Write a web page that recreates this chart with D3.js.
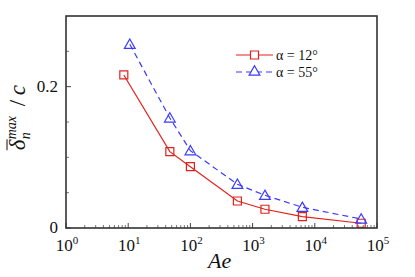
<!DOCTYPE html>
<html>
<head>
<meta charset="utf-8">
<script src="https://cdn.jsdelivr.net/npm/d3@7"></script>
<style>
  body { margin: 0; background: #fff; }
</style>
</head>
<body>
<div id="chart"></div>
<script>
// data
var ae_12 = [8.5, 46.7, 100, 570, 1580, 6310, 55700];
var delta_12 = [0.2166, 0.108, 0.0868, 0.0382, 0.0265, 0.016, 0.0067];
var ae_55 = [10.6, 46.7, 100, 570, 1580, 6310, 55700];
var delta_55 = [0.260, 0.1557, 0.1094, 0.0619, 0.0463, 0.0293, 0.0127];
var xTickExps = [0, 1, 2, 3, 4, 5];
var yTickLabels = [0, 0.2];
var yMinorTicks = [0.05, 0.1, 0.15, 0.25];

var serif = "Liberation Serif";

var margin = {top: 16, right: 38, bottom: 49, left: 66},
    width = 415 - margin.left - margin.right,
    height = 277 - margin.top - margin.bottom;

var x = d3.scaleLog().domain([1, 1e5]).range([0, width]);
var y = d3.scaleLinear().domain([0, 0.3]).range([height, 0]);

var svg = d3.select("#chart").append("svg")
    .attr("width", 415)
    .attr("height", 277)
    .style("font-family", serif)
  .append("g")
    .attr("transform", "translate(" + margin.left + "," + margin.top + ")");

// minor x ticks (inside)
var minorX = [];
for (var e = 0; e < 5; e++) {
  for (var k = 2; k <= 9; k++) minorX.push(k * Math.pow(10, e));
}
svg.selectAll(".xminor").data(minorX).enter().append("line")
    .attr("x1", function(d) { return x(d); }).attr("x2", function(d) { return x(d); })
    .attr("y1", height).attr("y2", height - 3)
    .attr("stroke", "#555").attr("stroke-width", 0.8);
svg.selectAll(".xmajor").data(xTickExps).enter().append("line")
    .attr("x1", function(d) { return x(Math.pow(10, d)); }).attr("x2", function(d) { return x(Math.pow(10, d)); })
    .attr("y1", height).attr("y2", height - 5)
    .attr("stroke", "#444").attr("stroke-width", 1);

svg.selectAll(".yminor").data(yMinorTicks).enter().append("line")
    .attr("x1", 0).attr("x2", 3)
    .attr("y1", function(d) { return y(d); }).attr("y2", function(d) { return y(d); })
    .attr("stroke", "#555").attr("stroke-width", 0.8);
svg.selectAll(".ymajor").data(yTickLabels).enter().append("line")
    .attr("x1", 0).attr("x2", 5)
    .attr("y1", function(d) { return y(d); }).attr("y2", function(d) { return y(d); })
    .attr("stroke", "#444").attr("stroke-width", 1);

// tick labels
var xl = svg.selectAll(".xlab").data(xTickExps).enter().append("text")
    .attr("x", function(d) { return x(Math.pow(10, d)) + 1; })
    .attr("y", height + 23)
    .attr("text-anchor", "middle")
    .style("font-family", serif)
    .attr("font-size", 17)
    .attr("fill", "#111");
xl.append("tspan").text("10");
xl.append("tspan").attr("dy", -7).attr("font-size", 11).text(function(d) { return d; });

svg.selectAll(".ylab").data(yTickLabels).enter().append("text")
    .attr("x", -8)
    .attr("y", function(d) { return y(d) + 5; })
    .attr("text-anchor", "end")
    .style("font-family", serif)
    .attr("font-size", 17)
    .attr("fill", "#111")
    .text(function(d) { return d === 0 ? "0" : d3.format(".1f")(d); });

// axis titles
svg.append("text")
    .attr("x", x(Math.pow(10, 2.47)))
    .attr("y", height + 40)
    .attr("text-anchor", "middle")
    .style("font-family", serif)
    .attr("font-size", 22)
    .attr("font-style", "italic")
    .attr("fill", "#111")
    .text("Ae");

// y title built from pieces, rotated
var yt = svg.append("g")
    .attr("transform", "translate(-41," + y(0.11) + ") rotate(-90)")
    .style("font-family", serif)
    .attr("font-style", "italic")
    .attr("fill", "#111");
yt.append("text").attr("x", 0).attr("y", 0).attr("font-size", 23).text("δ");
yt.append("line").attr("x1", 0).attr("x2", 11).attr("y1", -18).attr("y2", -18)
    .attr("stroke", "#111").attr("stroke-width", 1);
yt.append("text").attr("x", 11).attr("y", -9).attr("font-size", 14).text("max");
yt.append("text").attr("x", 11).attr("y", 5).attr("font-size", 14).text("n");
yt.append("text").attr("x", 44).attr("y", 0).attr("font-size", 23).attr("font-style", "normal").text("/");
yt.append("text").attr("x", 55).attr("y", 0).attr("font-size", 23).text("c");

// series
var red = "#e0221f", blue = "#3b3bff";
var s12 = ae_12.map(function(a, i) { return {a: a, v: delta_12[i]}; });
var s55 = ae_55.map(function(a, i) { return {a: a, v: delta_55[i]}; });
var line = d3.line()
    .x(function(d) { return x(d.a); })
    .y(function(d) { return y(d.v); });

svg.append("path").datum(s12).attr("d", line)
    .attr("fill", "none").attr("stroke", red).attr("stroke-width", 1.2);
svg.append("path").datum(s55).attr("d", line)
    .attr("fill", "none").attr("stroke", blue).attr("stroke-width", 1.2)
    .attr("stroke-dasharray", "6,4");

var sq = d3.symbol().type(d3.symbolSquare).size(64);
var tri = d3.symbol().type(d3.symbolTriangle).size(50);

svg.selectAll(".sq").data(s12).enter().append("path")
    .attr("d", sq)
    .attr("transform", function(d) { return "translate(" + x(d.a) + "," + y(d.v) + ")"; })
    .attr("fill", "none").attr("stroke", red).attr("stroke-width", 1.2);
svg.selectAll(".tri").data(s55).enter().append("path")
    .attr("d", tri)
    .attr("transform", function(d) { return "translate(" + x(d.a) + "," + (y(d.v) + 1) + ")"; })
    .attr("fill", "none").attr("stroke", blue).attr("stroke-width", 1.2);

// frame
svg.append("rect")
    .attr("width", width).attr("height", height)
    .attr("fill", "none").attr("stroke", "#333").attr("stroke-width", 1.6);

// legend
var legend = [
  {label: "α = 12°", color: red, dash: null, sym: sq, ly: 39},
  {label: "α = 55°", color: blue, dash: "6,4", sym: tri, ly: 56}
];
var lg = svg.selectAll(".lg").data(legend).enter().append("g")
    .attr("transform", function(d) { return "translate(170," + d.ly + ")"; });
lg.append("line").attr("x1", 0).attr("x2", 37).attr("y1", 0).attr("y2", 0)
    .attr("stroke", function(d) { return d.color; }).attr("stroke-width", 1.2)
    .attr("stroke-dasharray", function(d) { return d.dash; });
lg.append("path").attr("d", function(d) { return d.sym(); })
    .attr("transform", "translate(18.5,0)")
    .attr("fill", "#fff").attr("stroke", function(d) { return d.color; }).attr("stroke-width", 1.2);
lg.append("text").attr("x", 40).attr("y", 4.5)
    .style("font-family", serif)
    .attr("font-size", 14).attr("fill", "#111")
    .text(function(d) { return d.label; });
</script>
</body>
</html>
